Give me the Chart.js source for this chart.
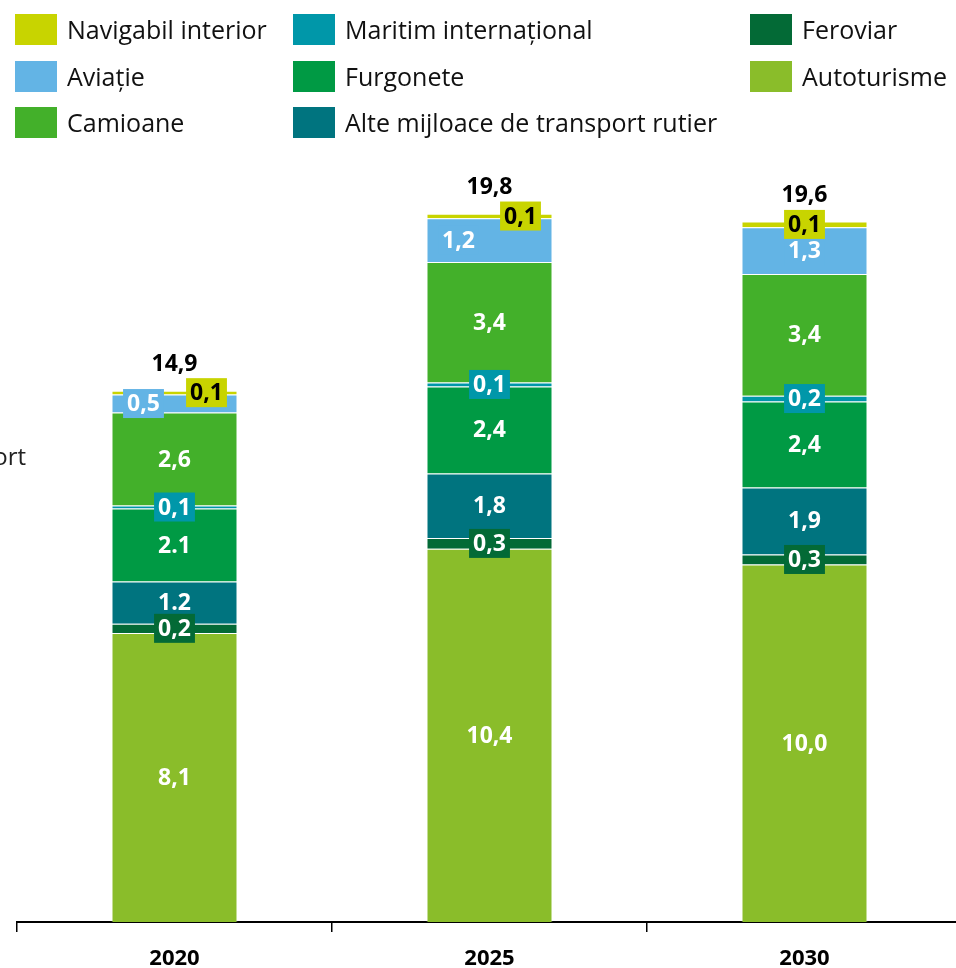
<!DOCTYPE html>
<html>
<head>
<meta charset="utf-8">
<script src="https://cdn.jsdelivr.net/npm/chart.js@4.4.1/dist/chart.umd.min.js"></script>
<style>
  html, body { margin: 0; padding: 0; background: #fff; }
  #wrap { position: relative; width: 956px; height: 968px; overflow: hidden; }
  #chart { position: absolute; left: 0; top: 0; }
  .leg { position: absolute; display: flex; align-items: center; font-family: "Open Sans", sans-serif; font-size: 25px; color: #111; white-space: nowrap; }
  .leg i { display: inline-block; width: 42px; height: 31px; margin-right: 10px; }
</style>
</head>
<body>
<div id="wrap">
  <canvas id="chart" width="970" height="968"></canvas>
</div>
<script>
// categories
const years = ['2020', '2025', '2030'];

const autoturisme = [8.1, 10.46, 10.02];
const feroviar = [0.26, 0.3, 0.28];
const alteRutier = [1.18, 1.81, 1.88];
const furgonete = [2.05, 2.44, 2.41];
const maritim = [0.08, 0.11, 0.16];
const camioane = [2.61, 3.38, 3.41];
const aviatie = [0.5, 1.22, 1.31];
const navigabil = [0.11, 0.13, 0.16];

// printed labels
const lblAutoturisme = ['8,1', '10,4', '10,0'];
const lblFeroviar = ['0,2', '0,3', '0,3'];
const lblAlteRutier = ['1.2', '1,8', '1,9'];
const lblFurgonete = ['2.1', '2,4', '2,4'];
const lblMaritim = ['0,1', '0,1', '0,2'];
const lblCamioane = ['2,6', '3,4', '3,4'];
const lblAviatie = ['0,5', '1,2', '1,3'];
const lblNavigabil = ['0,1', '0,1', '0,1'];
const totals = ['14,9', '19,8', '19,6'];

const series = [
  { name: 'Autoturisme', data: autoturisme, labels: lblAutoturisme, color: '#8abd2a', box: false, text: '#fff' },
  { name: 'Feroviar', data: feroviar, labels: lblFeroviar, color: '#036a36', box: true, text: '#fff' },
  { name: 'Alte mijloace de transport rutier', data: alteRutier, labels: lblAlteRutier, color: '#00747f', box: false, text: '#fff' },
  { name: 'Furgonete', data: furgonete, labels: lblFurgonete, color: '#009a44', box: false, text: '#fff' },
  { name: 'Maritim internațional', data: maritim, labels: lblMaritim, color: '#0097a9', box: true, text: '#fff' },
  { name: 'Camioane', data: camioane, labels: lblCamioane, color: '#43b02a', box: false, text: '#fff' },
  { name: 'Aviație', data: aviatie, labels: lblAviatie, color: '#63b4e5', box: true, text: '#fff', shift: [-31, -31, 0] },
  { name: 'Navigabil interior', data: navigabil, labels: lblNavigabil, color: '#c8d400', box: true, text: '#000', shift: [32, 31, 0] }
];

// legend, column by column
const legendSpots = [
  ['Navigabil interior', 15, 12], ['Aviație', 15, 59], ['Camioane', 15, 105],
  ['Maritim internațional', 293, 12], ['Furgonete', 293, 59], ['Alte mijloace de transport rutier', 293, 105],
  ['Feroviar', 750, 12], ['Autoturisme', 750, 59]
];
const wrap = document.getElementById('wrap');
legendSpots.forEach(([name, x, y]) => {
  const s = series.find(d => d.name === name);
  const el = document.createElement('div');
  el.className = 'leg';
  el.style.left = x + 'px';
  el.style.top = y + 'px';
  el.innerHTML = '<i style="background:' + s.color + '"></i><span>' + name + '</span>';
  wrap.appendChild(el);
});

const FONT = '"Open Sans", sans-serif';

const segmentLabels = {
  id: 'segmentLabels',
  afterDatasetsDraw(chart) {
    const ctx = chart.ctx;
    ctx.save();
    ctx.font = 'bold 23px ' + FONT;
    ctx.textAlign = 'center';
    ctx.textBaseline = 'middle';
    series.forEach((s, di) => {
      chart.getDatasetMeta(di).data.forEach((bar, i) => {
        const x = bar.x + (s.shift ? s.shift[i] : 0);
        const y = (bar.y + bar.base) / 2;
        const t = s.labels[i];
        if (s.box) {
          const w = ctx.measureText(t).width + 8;
          ctx.fillStyle = s.color;
          ctx.fillRect(x - w / 2, y - 14.5, w, 29);
        }
        ctx.fillStyle = s.text;
        ctx.fillText(t, x, y + 1);
      });
    });
    // totals above the stacks
    const top = chart.getDatasetMeta(series.length - 1).data;
    ctx.fillStyle = '#000';
    top.forEach((bar, i) => ctx.fillText(totals[i], bar.x, bar.y - 26));
    // cut-off axis title on the left
    ctx.font = '24px ' + FONT;
    ctx.textAlign = 'right';
    ctx.textBaseline = 'alphabetic';
    ctx.fillStyle = '#222';
    ctx.fillText('Emisii din transport', 26, 465);
    ctx.restore();
  }
};

new Chart(document.getElementById('chart'), {
  type: 'bar',
  data: {
    labels: years,
    datasets: series.map(s => ({
      label: s.name,
      data: s.data,
      backgroundColor: s.color,
      borderColor: 'rgba(255,255,255,0.3)',
      borderWidth: 1,
      barPercentage: 0.4,
      categoryPercentage: 1
    }))
  },
  options: {
    responsive: false,
    animation: false,
    layout: { padding: { top: 137, left: 17, right: 8, bottom: 0 } },
    plugins: { legend: { display: false }, tooltip: { enabled: false } },
    scales: {
      x: {
        stacked: true,
        grid: { drawOnChartArea: false, drawTicks: true, tickLength: 10, color: '#000', lineWidth: 1.5, offset: true },
        border: { display: true, color: '#000', width: 2 },
        ticks: { color: '#000', font: { family: FONT, size: 22, weight: 'bold' }, padding: 14 },
        afterFit(scale) { scale.height = 46; }
      },
      y: { stacked: true, display: false, min: 0, max: 22 }
    }
  },
  plugins: [segmentLabels]
});
</script>
</body>
</html>
